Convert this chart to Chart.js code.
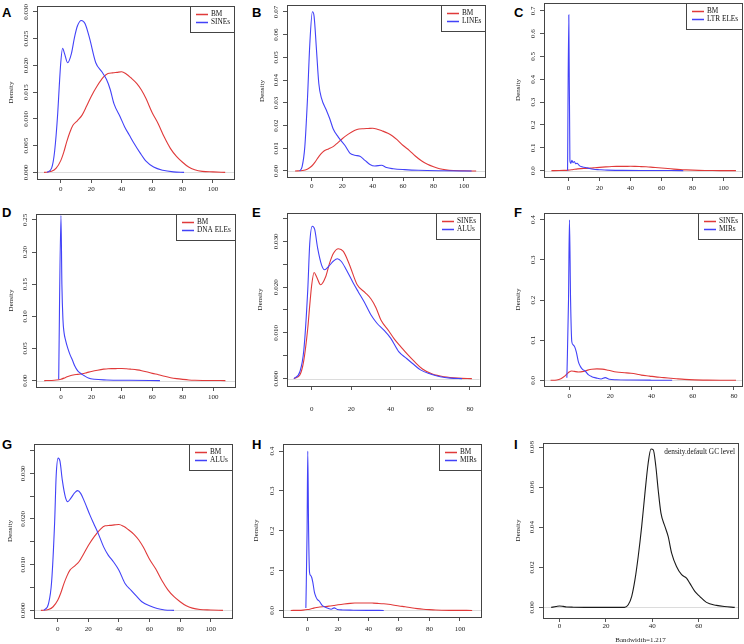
<!DOCTYPE html>
<html>
<head>
<meta charset="utf-8">
<script src="https://cdn.jsdelivr.net/npm/chart.js@4.4.1/dist/chart.umd.min.js"></script>
<style>
  html, body { margin: 0; padding: 0; background: #fff; }
  body { width: 744px; height: 644px; position: relative; overflow: hidden; }
  canvas { position: absolute; }
  .tag { position: absolute; font: bold 13px 'Liberation Sans', Arial, sans-serif; line-height: 13px; color: #000; }
</style>
</head>
<body>
<div class="tag" style="left:2px;top:6px">A</div>
<div class="tag" style="left:252px;top:6px">B</div>
<div class="tag" style="left:514px;top:6px">C</div>
<div class="tag" style="left:2px;top:206px">D</div>
<div class="tag" style="left:252px;top:206px">E</div>
<div class="tag" style="left:514px;top:206px">F</div>
<div class="tag" style="left:2px;top:438px">G</div>
<div class="tag" style="left:252px;top:438px">H</div>
<div class="tag" style="left:514px;top:438px">I</div>
<script>
// ---- data ----
const bmX = [-11, -6, -3, 0, 2, 4, 6, 8, 11, 14, 17, 20, 24, 28, 31, 34, 37, 40, 43, 46, 50, 53, 56, 60, 64, 68, 72, 76, 80, 84, 88, 93, 100, 108];
const bmY = [0, 0.0002, 0.0008, 0.0022, 0.0038, 0.0058, 0.0075, 0.0088, 0.0097, 0.0107, 0.0124, 0.0142, 0.0162, 0.0178, 0.0185, 0.0186, 0.0187, 0.0188, 0.0184, 0.0177, 0.0166, 0.0154, 0.0138, 0.0112, 0.0091, 0.0066, 0.0045, 0.003, 0.0019, 0.001, 0.0005, 0.0002, 0.0001, 0];

const sineX = [-9, -6, -4, -2, -1, 0, 1.2, 2.5, 4.5, 7, 9, 11, 13.5, 16, 19, 23, 27, 30, 32.5, 35, 39, 42, 45, 48, 52, 56, 61, 67, 74, 81];
const sineY = [0, 0.0008, 0.004, 0.011, 0.016, 0.0205, 0.0232, 0.0222, 0.0205, 0.0222, 0.0252, 0.0274, 0.0284, 0.0278, 0.025, 0.0205, 0.0188, 0.0174, 0.0155, 0.0128, 0.0104, 0.0085, 0.007, 0.0055, 0.0037, 0.0021, 0.001, 0.0004, 0.0001, 0];

const lineX = [-8, -6.4, -4.6, -2.9, -1.3, 0.4, 1.5, 3.1, 4.6, 6.4, 9.6, 11.8, 14, 17.3, 21.7, 25, 28.3, 31.6, 34.9, 38.2, 41.4, 45.8, 49.1, 53.5, 61, 70, 87, 105];
const lineY = [0, 0.0018, 0.0106, 0.031, 0.056, 0.07, 0.068, 0.053, 0.0385, 0.0319, 0.0267, 0.023, 0.0186, 0.015, 0.0113, 0.0079, 0.0069, 0.0065, 0.0047, 0.0029, 0.0022, 0.0025, 0.0015, 0.001, 0.0006, 0.0003, 0.0001, 0];

const ltrX = [-0.6, 0.2, 0.9, 1.5, 2.2, 3, 3.8, 4.6, 5.5, 7, 9, 12, 16, 20, 25, 35, 50, 74];
const ltrY = [0, 0.682, 0.045, 0.032, 0.045, 0.035, 0.04, 0.03, 0.032, 0.022, 0.016, 0.012, 0.006, 0.004, 0.002, 0.001, 0.0005, 0];

const dnaX = [-1.5, 0, 0.6, 1.3, 2, 3, 4.5, 6, 7.5, 9, 11, 13, 15, 18, 22, 30, 45, 65];
const dnaY = [0.002, 0.257, 0.15, 0.095, 0.075, 0.063, 0.05, 0.04, 0.032, 0.023, 0.015, 0.011, 0.008, 0.004, 0.002, 0.001, 0.0005, 0];

const aluX = [-9, -6, -4, -2, -1, 0.3, 1.5, 3, 5, 6.5, 8.5, 11, 13, 15, 17.5, 21, 23.5, 26.5, 30, 33, 36.5, 40, 44, 48, 51, 55, 60, 65, 70, 76];
const aluY = [0, 0.0015, 0.0062, 0.0194, 0.0295, 0.0333, 0.0326, 0.0285, 0.0248, 0.0238, 0.0245, 0.0257, 0.0262, 0.0256, 0.0238, 0.0209, 0.019, 0.0168, 0.0139, 0.0121, 0.0106, 0.0088, 0.0059, 0.0044, 0.0033, 0.0019, 0.001, 0.0004, 0.0001, 0];

const mirX = [-1.1, -0.3, 0.15, 0.7, 1.3, 2, 2.8, 3.5, 4.5, 5.5, 6.5, 7.8, 9.3, 11, 13, 15.5, 17.5, 19.5, 23, 30, 40, 50];
const mirY = [0.006, 0.2, 0.4, 0.2, 0.096, 0.088, 0.082, 0.07, 0.046, 0.034, 0.027, 0.023, 0.014, 0.009, 0.006, 0.003, 0.0065, 0.0025, 0.0012, 0.0006, 0.0002, 0];

const gcX = [-3.6, -1.5, 0, 1.5, 3, 6, 15, 28, 29.6, 31.1, 32.5, 33.9, 35.4, 36.8, 38.2, 39.4, 40.4, 41.5, 42.5, 43.7, 45.4, 46.8, 48.3, 50.4, 52.6, 54.7, 56.1, 58.3, 60.4, 63.3, 67.6, 71, 75.5];
const gcY = [0, 0.0004, 0.0007, 0.0005, 0.0002, 0.0001, 0, 0, 0.0013, 0.0055, 0.0138, 0.0254, 0.0404, 0.057, 0.072, 0.079, 0.0786, 0.0703, 0.0587, 0.047, 0.0404, 0.0354, 0.0271, 0.0204, 0.0163, 0.0146, 0.0121, 0.008, 0.0055, 0.0025, 0.001, 0.0004, 0];

// tick values and labels
const xTicks100 = [0, 20, 40, 60, 80, 100];
const xTicks80 = [0, 20, 40, 60, 80];
const xTicks60 = [0, 20, 40, 60];
const yTicksA = [0, 0.005, 0.01, 0.015, 0.02, 0.025, 0.03];
const yLabelsA = ['0.000', '0.005', '0.010', '0.015', '0.020', '0.025', '0.030'];
const yTicksB = [0, 0.01, 0.02, 0.03, 0.04, 0.05, 0.06, 0.07];
const yLabelsB = ['0.00', '0.01', '0.02', '0.03', '0.04', '0.05', '0.06', '0.07'];
const yTicksC = [0, 0.1, 0.2, 0.3, 0.4, 0.5, 0.6, 0.7];
const yLabelsC = ['0.0', '0.1', '0.2', '0.3', '0.4', '0.5', '0.6', '0.7'];
const yTicksD = [0, 0.05, 0.1, 0.15, 0.2, 0.25];
const yLabelsD = ['0.00', '0.05', '0.10', '0.15', '0.20', '0.25'];
const yTicksEG = [0, 0.005, 0.01, 0.015, 0.02, 0.025, 0.03, 0.035];
const yLabelsEG = ['0.000', '', '0.010', '', '0.020', '', '0.030', ''];
const yTicksFH = [0, 0.1, 0.2, 0.3, 0.4];
const yLabelsFH = ['0.0', '0.1', '0.2', '0.3', '0.4'];
const yTicksI = [0, 0.02, 0.04, 0.06, 0.08];
const yLabelsI = ['0.00', '0.02', '0.04', '0.06', '0.08'];

const RED = '#e03a3a';
const BLUE = '#4242f8';
const BLACK = '#1a1a1a';
const AXIS = '#444';
const SERIF = "'Liberation Serif', 'Times New Roman', serif";
const TICK_LEN = 4;

const bm = { label: 'BM', x: bmX, y: bmY, color: RED };

// box = [left, top, right, bottom] of the plot frame in page pixels
const panels = [
  { box: [37, 6, 234, 179], titleX: 11, xr: [-15.6, 113.8], yr: [-0.00123, 0.0311], xt: xTicks100, yt: yTicksA, yl: yLabelsA, gap: 10,
    series: [bm, { label: 'SINEs', x: sineX, y: sineY, color: BLUE }] },
  { box: [287, 5, 485, 177], titleX: 262, xr: [-16.3, 113.8], yr: [-0.00264, 0.073], xt: xTicks100, yt: yTicksB, yl: yLabelsB, gap: 9.5,
    series: [bm, { label: 'LINEs', x: lineX, y: lineY, color: BLUE }] },
  { box: [544, 3, 742, 177], titleX: 518, xr: [-15.8, 111.9], yr: [-0.028, 0.734], xt: xTicks100, yt: yTicksC, yl: yLabelsC, gap: 11,
    series: [bm, { label: 'LTR ELEs', x: ltrX, y: ltrY, color: BLUE }] },
  { box: [36, 214, 235, 387], titleX: 11, xr: [-16.4, 114.3], yr: [-0.01, 0.2593], xt: xTicks100, yt: yTicksD, yl: yLabelsD, gap: 10,
    series: [bm, { label: 'DNA ELEs', x: dnaX, y: dnaY, color: BLUE }] },
  { box: [287, 213, 485, 386], titleX: 260, xr: [-12.5, 84.9], yr: [-0.00162, 0.0362], xt: xTicks80, yt: yTicksEG, yl: yLabelsEG, gap: 23.6,
    series: [{ label: 'SINEs', x: sineX, y: sineY, color: RED }, { label: 'ALUs', x: aluX, y: aluY, color: BLUE }] },
  { box: [544, 213, 742, 386], titleX: 518, xr: [-12.2, 83.9], yr: [-0.0143, 0.4168], xt: xTicks80, yt: yTicksFH, yl: yLabelsFH, gap: 10,
    series: [{ label: 'SINEs', x: sineX, y: sineY, color: RED }, { label: 'MIRs', x: mirX, y: mirY, color: BLUE }] },
  { box: [34, 444, 232, 618], titleX: 10, xr: [-15.5, 113.9], yr: [-0.00166, 0.0364], xt: xTicks100, yt: yTicksEG, yl: yLabelsEG, gap: 11,
    series: [bm, { label: 'ALUs', x: aluX, y: aluY, color: BLUE }] },
  { box: [283, 444, 481, 617], titleX: 256, xr: [-16.1, 113.8], yr: [-0.0165, 0.4178], xt: xTicks100, yt: yTicksFH, yl: yLabelsFH, gap: 12,
    series: [bm, { label: 'MIRs', x: mirX, y: mirY, color: BLUE }] },
  { box: [543, 443, 738, 618], titleX: 518, xr: [-7.13, 76.9], yr: [-0.0053, 0.082], xt: xTicks60, yt: yTicksI, yl: yLabelsI, gap: 8,
    note: 'density.default GC level', xTitle: 'Bandwidth=1.217', bottom: 644,
    series: [{ label: 'density.default GC level', x: gcX, y: gcY, color: BLACK }] }
];

// frame, zero line and R-style legend
const framePlugin = {
  id: 'frame',
  beforeDatasetsDraw(chart) {
    const { ctx, chartArea: a, scales: { y } } = chart;
    const y0 = Math.round(y.getPixelForValue(0)) + 0.5;
    ctx.save();
    ctx.strokeStyle = '#dcdcdc';
    ctx.lineWidth = 1;
    ctx.beginPath();
    ctx.moveTo(a.left, y0);
    ctx.lineTo(a.right, y0);
    ctx.stroke();
    ctx.restore();
  },
  afterDraw(chart, args, opts) {
    const { ctx, chartArea: a } = chart;
    ctx.save();
    ctx.strokeStyle = AXIS;
    ctx.lineWidth = 1;
    ctx.strokeRect(Math.round(a.left) + 0.5, Math.round(a.top) + 0.5, Math.round(a.right - a.left), Math.round(a.bottom - a.top));
    ctx.font = "7.3px " + SERIF;
    ctx.textBaseline = 'middle';
    if (opts.note) {
      ctx.fillStyle = '#111';
      ctx.textAlign = 'right';
      ctx.fillText(opts.note, a.right - 3, a.top + 9);
    } else {
      const sets = chart.data.datasets;
      const tw = Math.max(...sets.map(d => ctx.measureText(d.label).width));
      const w = Math.round(6 + 12 + 3 + tw + 4), h = 26;
      const x0 = Math.round(a.right) - w, y0 = Math.round(a.top);
      ctx.fillStyle = '#fff';
      ctx.fillRect(x0, y0, w, h);
      ctx.strokeStyle = AXIS;
      ctx.lineWidth = 1;
      ctx.strokeRect(x0 + 0.5, y0 + 0.5, w, h);
      sets.forEach((d, i) => {
        const yy = y0 + 8.5 + i * 8;
        ctx.fillStyle = d.borderColor;
        ctx.fillRect(x0 + 6, yy - 0.75, 12, 1.5);
        ctx.fillStyle = '#111';
        ctx.textAlign = 'left';
        ctx.fillText(d.label, x0 + 21, yy);
      });
    }
    ctx.restore();
  }
};

const measureCtx = document.createElement('canvas').getContext('2d');
measureCtx.font = "7px " + SERIF;

function drawPanel(p) {
  const [L, T, R, B] = p.box;
  const padTop = 8;
  const left = Math.round(p.titleX - 4.2);
  const top = T - padTop;
  const axW = L - left;
  const axH = p.bottom ? p.bottom - B : Math.round(p.gap + 10);
  const cv = document.createElement('canvas');
  cv.width = axW + (R - L) + 4;
  cv.height = padTop + (B - T) + axH;
  cv.style.left = left + 'px';
  cv.style.top = top + 'px';
  document.body.appendChild(cv);

  const widest = Math.max(...p.yl.map(t => measureCtx.measureText(t).width));
  const yPad = 10.5 - TICK_LEN - widest / 2;
  const font = { family: SERIF, size: 7 };
  const grid = { display: true, drawOnChartArea: false, drawTicks: true, tickLength: TICK_LEN, tickColor: '#555' };
  const border = { display: true, color: AXIS, width: 1 };

  new Chart(cv, {
    type: 'line',
    data: {
      datasets: p.series.map((s, i) => ({
        label: s.label,
        data: s.x.map((x, k) => ({ x: x, y: s.y[k] })),
        borderColor: s.color,
        borderWidth: 1.1,
        pointRadius: 0,
        fill: false,
        cubicInterpolationMode: 'monotone',
        order: p.series.length - i
      }))
    },
    options: {
      responsive: false,
      animation: false,
      devicePixelRatio: 1,
      events: [],
      layout: { padding: { top: padTop, right: 4, left: 0, bottom: 0 } },
      plugins: {
        legend: { display: false },
        tooltip: { enabled: false },
        frame: { note: p.note }
      },
      scales: {
        x: {
          type: 'linear',
          min: p.xr[0],
          max: p.xr[1],
          afterBuildTicks: s => { s.ticks = p.xt.map(v => ({ value: v })); },
          afterFit: s => { s.height = axH; },
          grid: grid,
          border: border,
          ticks: { color: '#222', font: font, padding: p.gap - TICK_LEN - 4.2, maxRotation: 0, autoSkip: false, callback: v => String(v) },
          title: p.xTitle ? { display: true, text: p.xTitle, color: '#222', font: font, padding: 0 } : { display: false }
        },
        y: {
          type: 'linear',
          min: p.yr[0],
          max: p.yr[1],
          afterBuildTicks: s => { s.ticks = p.yt.map(v => ({ value: v })); },
          afterFit: s => { s.width = axW; },
          grid: grid,
          border: border,
          ticks: { color: '#222', font: font, minRotation: 90, maxRotation: 90, crossAlign: 'center', padding: yPad, autoSkip: false,
                   callback: (v, i) => p.yl[i] },
          title: { display: true, text: 'Density', color: '#222', font: font, padding: 0 }
        }
      }
    },
    plugins: [framePlugin]
  });
}

panels.forEach(drawPanel);
</script>
</body>
</html>
